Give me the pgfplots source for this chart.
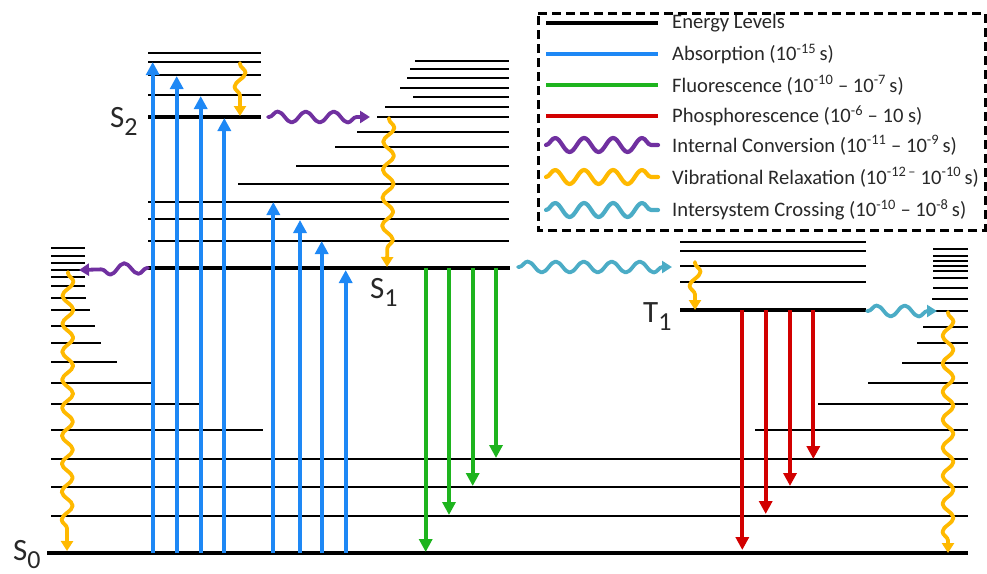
\documentclass[border=0pt]{standalone}
\usepackage{pgfplots}
\pgfplotsset{compat=1.18}
\usepackage{fontspec}
\setmainfont{Carlito}
\usetikzlibrary{arrows.meta,decorations.pathmorphing}
\definecolor{cblue}{RGB}{30,136,245}
\definecolor{cgreen}{RGB}{30,180,30}
\definecolor{cred}{RGB}{210,0,0}
\definecolor{cpurple}{RGB}{112,48,160}
\definecolor{cyellow}{RGB}{255,185,0}
\definecolor{cteal}{RGB}{75,172,198}
\definecolor{txt}{RGB}{40,40,40}
\tikzset{
 lvl/.style={draw=black, line width=2.3pt},
 gnd/.style={draw=black, line width=4.5pt},
 sarrow/.style={line width=3.8pt, -{Triangle[width=13pt,length=13pt]}},
 wavy/.style={line width=3.8pt, line cap=round, line join=round, decorate,
   decoration={snake, amplitude=5.5pt, segment length=28pt, pre length=1pt, post length=9pt},
   -{Triangle[width=12pt,length=10pt]}},
 lwavy/.style={line width=4.2pt, line cap=round, line join=round, decorate,
   decoration={snake, amplitude=7pt, segment length=29pt}},
}
\newcommand{\lv}[3]{\addplot[lvl] coordinates {(#2,#1) (#3,#1)};}
\newcommand{\gl}[3]{\addplot[gnd] coordinates {(#2,#1) (#3,#1)};}
\newcommand{\lab}[4]{\node[anchor=base west, inner sep=0pt, text=txt, font=\fontsize{31}{31}\selectfont] at (axis cs:#1,#2) {#3\raisebox{-8pt}{\fontsize{26}{26}\selectfont #4}};}
\newcommand{\legtext}[2]{\node[anchor=west, inner sep=0pt, text=txt, font=\fontsize{20.6}{22}\selectfont] at (axis cs:672,#1) {#2};}
\begin{document}
\begin{tikzpicture}
\begin{axis}[scale only axis, width=987pt, height=573pt,
  xmin=0, xmax=987, ymin=0, ymax=573, y dir=reverse,
  hide axis, clip=false]
\addplot[draw=none] coordinates {(0,0) (987,573)};
% ---- S2 stack
\lv{52.7}{148}{261}
\lv{61.7}{148}{261}
\lv{75}{148}{261}
\lv{95}{148}{261}
\gl{117}{148}{261}
% ---- S1 stack
\lv{61}{415}{509}
\lv{69}{410}{509}
\lv{77.7}{407}{509}
\lv{88.3}{400}{509}
\lv{97.3}{413}{509}
\lv{106.7}{385}{509}
\lv{116.7}{377}{509}
\lv{132.3}{357}{509}
\lv{147.3}{335}{509}
\lv{166}{296}{509}
\lv{184.3}{238}{509}
\lv{201.7}{148}{509}
\lv{219.3}{148}{509}
\lv{240.7}{148}{509}
\gl{268}{148}{510}
% ---- T1 stack
\lv{241.7}{680}{866}
\lv{250.7}{680}{866}
\lv{265.7}{680}{866}
\lv{282.3}{680}{866}
\gl{310}{680}{866}
% ---- S0 left stack
\lv{248}{51}{85}
\lv{255.7}{51}{85}
\lv{262.7}{51}{85}
\lv{270}{51}{85}
\lv{276.7}{51}{85}
\lv{286}{51}{85}
\lv{297.7}{51}{86}
\lv{310}{51}{90}
\lv{326}{51}{95}
\lv{343}{51}{101}
\lv{362}{51}{117}
\lv{383}{51}{152}
\lv{404}{51}{199}
\lv{430}{51}{263}
\lv{459}{51}{968}
\lv{487}{51}{968}
\lv{516}{51}{968}
% ---- S0 right stack
\lv{249}{933}{968}
\lv{255.7}{933}{968}
\lv{261}{933}{968}
\lv{265.7}{933}{968}
\lv{271}{933}{968}
\lv{277.7}{933}{968}
\lv{287.7}{933}{968}
\lv{299}{932}{968}
\lv{311}{935}{968}
\lv{326.7}{923}{968}
\lv{343.3}{917}{968}
\lv{362.7}{902}{968}
\lv{383}{868}{968}
\lv{404}{818}{968}
\lv{430}{755}{968}
\gl{553}{47}{968}
% ---- absorption
\addplot[sarrow, cblue] coordinates {(152.7,553) (152.7,62)};
\addplot[sarrow, cblue] coordinates {(176.7,553) (176.7,76)};
\addplot[sarrow, cblue] coordinates {(200.7,553) (200.7,96)};
\addplot[sarrow, cblue] coordinates {(224.3,553) (224.3,118)};
\addplot[sarrow, cblue] coordinates {(273.3,553) (273.3,202)};
\addplot[sarrow, cblue] coordinates {(300,553) (300,220)};
\addplot[sarrow, cblue] coordinates {(321.7,553) (321.7,241)};
\addplot[sarrow, cblue] coordinates {(345.7,553) (345.7,270)};
% ---- fluorescence
\addplot[sarrow, cgreen] coordinates {(425.7,268) (425.7,552)};
\addplot[sarrow, cgreen] coordinates {(449,268) (449,515)};
\addplot[sarrow, cgreen] coordinates {(472.7,268) (472.7,486)};
\addplot[sarrow, cgreen] coordinates {(496,268) (496,458)};
% ---- phosphorescence
\addplot[sarrow, cred] coordinates {(742.3,310) (742.3,550)};
\addplot[sarrow, cred] coordinates {(765.7,310) (765.7,514)};
\addplot[sarrow, cred] coordinates {(790,310) (790,486)};
\addplot[sarrow, cred] coordinates {(813.3,310) (813.3,459)};
% ---- wavy arrows
\addplot[wavy, cpurple] coordinates {(268,117) (370,117)};
\addplot[wavy, cpurple] coordinates {(148,268) (79,270)};
\addplot[wavy, cyellow] coordinates {(240,63) (240,116)};
\addplot[wavy, cyellow] coordinates {(389,118) (387,267)};
\addplot[wavy, cyellow] coordinates {(68,272) (67,551)};
\addplot[wavy, cyellow] coordinates {(695,262) (695,310)};
\addplot[wavy, cyellow] coordinates {(948,312) (948,553)};
\addplot[wavy, cteal] coordinates {(518,267) (672,267)};
\addplot[wavy, cteal] coordinates {(867,311) (937,311)};
% ---- labels
\lab{110}{127}{S}{2}
\lab{370}{298}{S}{1}
\lab{13}{560}{S}{0}
\lab{643}{322}{T}{1}
% ---- legend
\addplot[black, line width=3pt, dash pattern=on 9pt off 5pt] coordinates {(538,13) (985,13) (985,230) (538,230) (538,13)};
\addplot[black, line width=4pt] coordinates {(546,23) (658,23)};
\addplot[cblue, line width=4pt] coordinates {(546,54) (658,54)};
\addplot[cgreen, line width=4pt] coordinates {(546,85) (658,85)};
\addplot[cred, line width=4pt] coordinates {(546,116) (658,116)};
\addplot[lwavy, cpurple] coordinates {(546,145) (658,145)};
\addplot[lwavy, cyellow] coordinates {(546,177) (658,177)};
\addplot[lwavy, cteal] coordinates {(546,210) (658,210)};
\legtext{23}{Energy Levels}
\legtext{54}{Absorption (10\textsuperscript{-15}\,s)}
\legtext{85}{Fluorescence (10\textsuperscript{-10} -- 10\textsuperscript{-7}\,s)}
\legtext{116}{Phosphorescence (10\textsuperscript{-6} -- 10 s)}
\legtext{145}{Internal Conversion (10\textsuperscript{-11} -- 10\textsuperscript{-9}\,s)}
\legtext{177}{Vibrational Relaxation (10\textsuperscript{-12\,--} 10\textsuperscript{-10}\,s)}
\legtext{210}{Intersystem Crossing (10\textsuperscript{-10} -- 10\textsuperscript{-8}\,s)}
\end{axis}
\end{tikzpicture}
\end{document}
